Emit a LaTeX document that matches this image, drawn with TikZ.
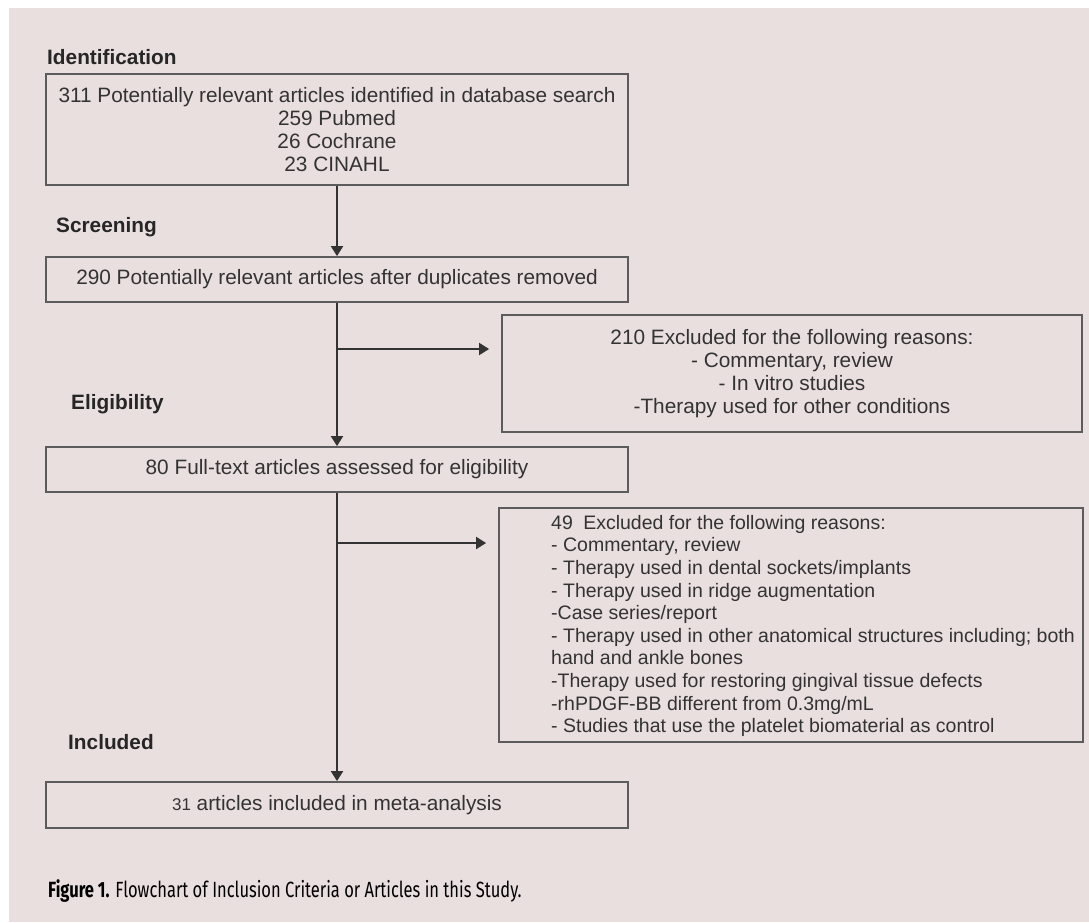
\documentclass[tikz,border=0pt]{standalone}
\usepackage{fontspec}
\setmainfont{Liberation Sans}
\newfontfamily\capfont[FakeStretch=0.75]{Fira Sans}
\usepackage{xcolor}
\usetikzlibrary{arrows.meta,positioning,calc}
\definecolor{panelbg}{HTML}{E9DFDE}
\definecolor{boxline}{HTML}{5C5C5C}
\definecolor{inktext}{HTML}{333333}

\begin{document}
\begin{tikzpicture}[x=1pt,y=-1pt,>={Triangle[width=12pt,length=10pt]},
  font=\fontsize{20.8}{23}\selectfont,
  box/.style={draw=boxline,line width=1.8pt,inner sep=0pt,text=inktext,align=center},
  stage/.style={anchor=base west,inner sep=0pt,font=\fontsize{20.8}{23}\selectfont\bfseries,text=black!85},
  flow/.style={->,line width=2pt,draw=black!80}]
  \useasboundingbox (0,0) rectangle (1089,922);
  \fill[white] (0,0) rectangle (1089,922);
  \fill[panelbg] (9,8) rectangle (1089,922);
  % stage labels
  \node[stage] (lblident) at (47,64) {Identification};
  \node[stage] (lblscreen) at (56,232) {Screening};
  \node[stage] (lblelig) at (71,409) {Eligibility};
  \node[stage] (lblincl) at (68,749) {Included};
  % main column
  \node[box,minimum width=582pt,minimum height=111pt] (ident) at (337,129.5)
    {311 Potentially relevant articles identified in database search\\259 Pubmed\\26 Cochrane\\23 CINAHL};
  \node[box,minimum width=582pt,minimum height=45pt] (screen) at (337,279.5)
    {290 Potentially relevant articles after duplicates removed};
  \node[box,minimum width=582pt,minimum height=45pt] (elig) at (337,469.5)
    {80 Full-text articles assessed for eligibility};
  \node[box,minimum width=582pt,minimum height=46pt] (incl) at (337,805)
    {{\fontsize{17}{20}\selectfont 31} articles included in meta-analysis};
  % exclusions
  \node[box,minimum width=580pt,minimum height=117pt] (excl1) at (792,373.5)
    {210 Excluded for the following reasons:\\- Commentary, review\\- In vitro studies\\-Therapy used for other conditions};
  \node[box,minimum width=584pt,minimum height=234pt] (excl2) at (791,625) {};
  \node[anchor=west,inner sep=0pt,text=inktext,align=left,font=\fontsize{19.5}{22.6}\selectfont] (excl2txt) at (551,626)
    {49\hspace{5pt} Excluded for the following reasons:\\
     - Commentary, review\\
     - Therapy used in dental sockets/implants\\
     - Therapy used in ridge augmentation\\
     -Case series/report\\
     - Therapy used in other anatomical structures including; both\\
     hand and ankle bones\\
     -Therapy used for restoring gingival tissue defects\\
     -rhPDGF-BB different from 0.3mg/mL\\
     - Studies that use the platelet biomaterial as control};
  % arrows
  \coordinate (fork1) at (337,349);
  \coordinate (fork2) at (337,543);
  \draw[flow] (ident.south) -- (screen.north);
  \draw[flow] (screen.south) -- (elig.north);
  \draw[flow] (elig.south) -- (incl.north);
  \draw[flow,shorten >=12pt] (fork1) -- (fork1 -| excl1.west);
  \draw[flow,shorten >=12pt] (fork2) -- (fork2 -| excl2.west);
  % caption
  \node[anchor=base west,inner sep=0pt,font=\capfont\fontsize{22}{26}\selectfont] (caption) at (48,897)
    {\textbf{Figure 1.} Flowchart of Inclusion Criteria or Articles in this Study.};
\end{tikzpicture}
\end{document}
